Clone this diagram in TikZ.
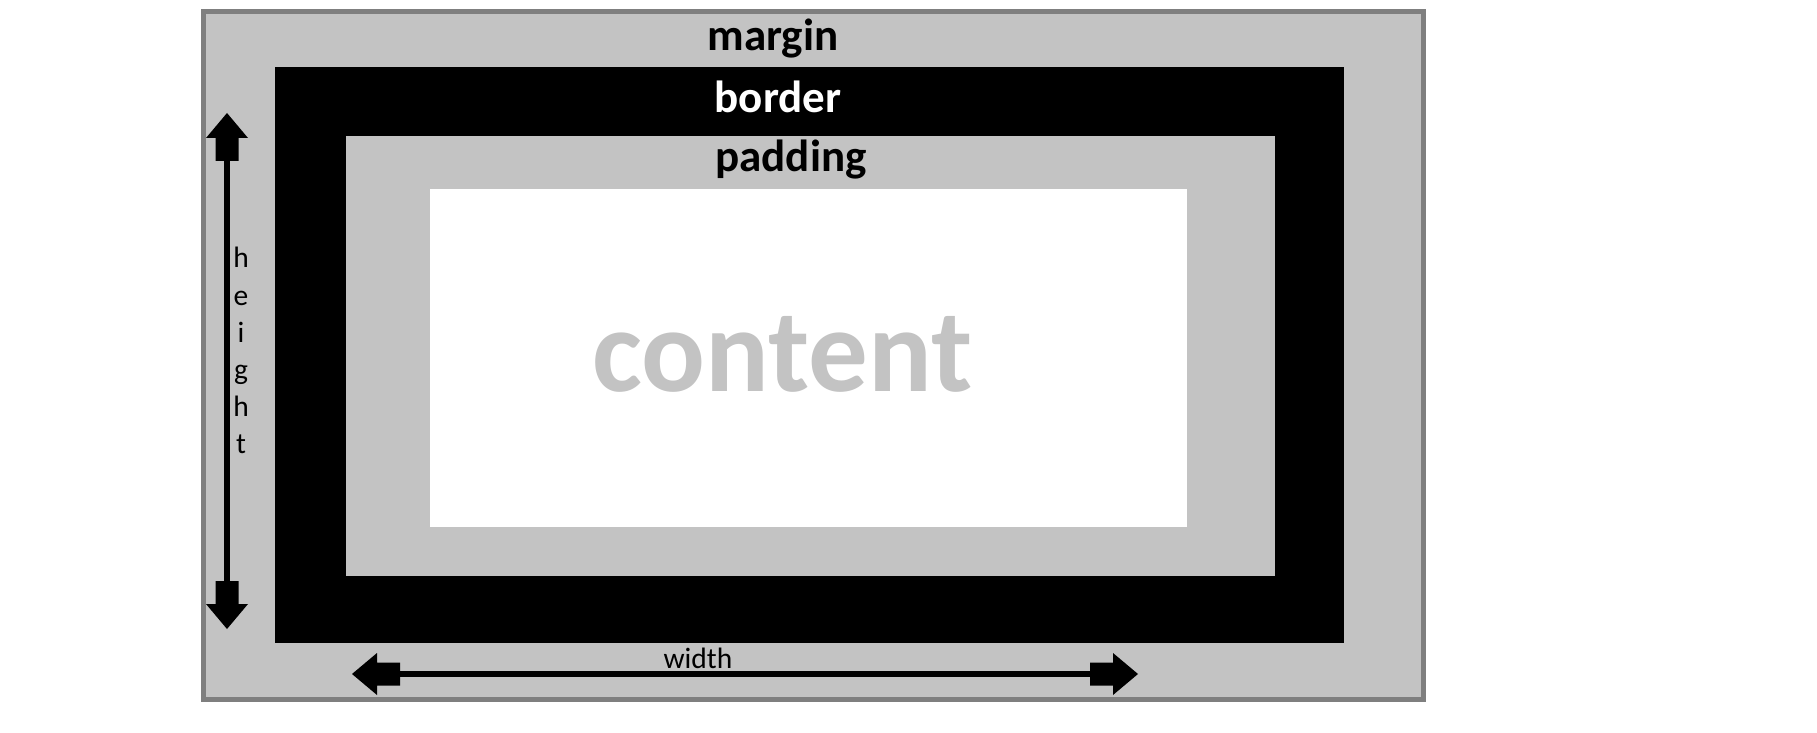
\documentclass[tikz,border=0pt]{standalone}
\usepackage{fontspec}
\setmainfont{Carlito}
\definecolor{boxgray}{HTML}{C3C3C3}
\definecolor{edgegray}{HTML}{7F7F7F}
\begin{document}
% one unit = one pixel of a 1817 x 733 canvas, y runs downwards
\begin{tikzpicture}[x=0.5pt,y=-0.5pt,
  layer/.style={fill=#1,draw=none},
  tag/.style={inner sep=0pt,anchor=base,font=\bfseries\fontsize{22.5}{27}\selectfont},
  dimlabel/.style={inner sep=0pt,font=\fontsize{14.75}{18.6}\selectfont},
  shaft/.style={line width=2.75pt,line cap=butt,shorten <=8pt,shorten >=8pt},
  blockhead/.pic={
    \fill (0,0) -- (-25,21) -- (-25,11.5) -- (-48,11.5)
          -- (-48,-11.5) -- (-25,-11.5) -- (-25,-21) -- cycle;}
]
\useasboundingbox (0,0) rectangle (1817,733);

% nested boxes: margin, border, padding, content
\draw[fill=boxgray,draw=edgegray,line width=2.5pt] (203.5,11.5) rectangle (1423.5,699.5);
\fill[layer=black]   (275,67)  rectangle (1344,643);
\fill[layer=boxgray] (346,136) rectangle (1275,576);
\fill[layer=white]   (430,189) rectangle (1187,527);

% box labels
\node[tag,text=black] (lmargin)  at (773,51)  {margin};
\node[tag,text=white] (lborder)  at (778,113) {border};
\node[tag,text=black] (lpadding) at (791,172) {padding};
\node[inner sep=0pt,anchor=base,text=boxgray,
      font=\bfseries\fontsize{59.5}{70}\selectfont] (lcontent) at (782.5,391) {content};

% height dimension
\coordinate (hTop) at (227,113);
\coordinate (hBot) at (227,629);
\draw[shaft] (hTop) -- (hBot);
\pic[rotate=90]  at (hTop) {blockhead};
\pic[rotate=-90] at (hBot) {blockhead};
\node[dimlabel,anchor=north,align=center] (lheight) at (241,247)
  {h\\e\\i\\g\\h\\t};

% width dimension
\coordinate (wLeft)  at (352,674);
\coordinate (wRight) at (1138,674);
\draw[shaft] (wLeft) -- (wRight);
\pic[rotate=180] at (wLeft)  {blockhead};
\pic             at (wRight) {blockhead};
\node[dimlabel,anchor=base] (lwidth) at (698,668) {width};
\end{tikzpicture}
\end{document}
